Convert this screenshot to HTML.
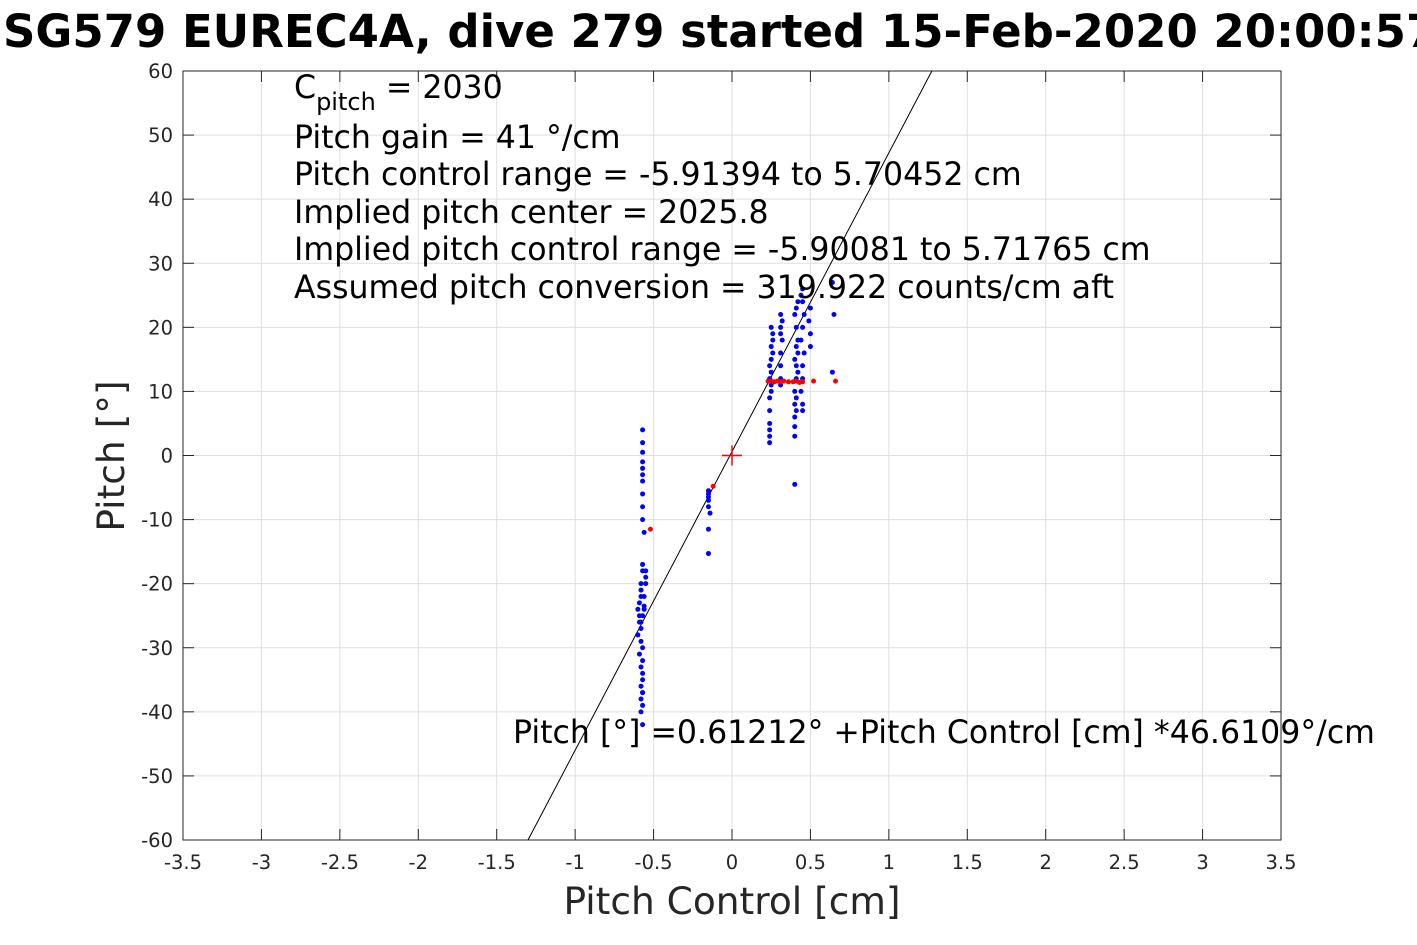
<!DOCTYPE html>
<html><head><meta charset="utf-8"><style>
body{margin:0;background:#fff;}
svg{display:block;font-family:"DejaVu Sans","Liberation Sans",sans-serif;}
</style></head><body>
<svg id="chart" width="1417" height="945" viewBox="0 0 1417 945">
<text x="3" y="47" font-size="45" font-weight="bold" fill="#000">SG579 EUREC4A, dive 279 started 15-Feb-2020 20:00:57</text>
<g id="grid"></g>
<rect x="183" y="71" width="1098" height="769" fill="none" stroke="#262626" stroke-width="1"/>
<g id="ticks"></g>
<g id="marks"></g>
<g font-size="31.6" fill="#000">
<text x="294" y="98">C<tspan font-size="24" dy="12">pitch</tspan><tspan dy="-12"> = 2030</tspan></text>
<text x="294" y="148">Pitch gain = 41 °/cm</text>
<text x="294" y="185">Pitch control range = -5.91394 to 5.70452 cm</text>
<text x="294" y="223">Implied pitch center = 2025.8</text>
<text x="294" y="260">Implied pitch control range = -5.90081 to 5.71765 cm</text>
<text x="294" y="298">Assumed pitch conversion = 319.922 counts/cm aft</text>
<text x="513" y="743">Pitch [°] =0.61212° +Pitch Control [cm] *46.6109°/cm</text>
</g>
<text x="732" y="914" font-size="37.5" fill="#262626" text-anchor="middle">Pitch Control [cm]</text>
<text transform="translate(124,456) rotate(-90)" font-size="37.5" fill="#262626" text-anchor="middle">Pitch [°]</text>
</svg>
<script>
const xTicks=[-3.5,-3,-2.5,-2,-1.5,-1,-0.5,0,0.5,1,1.5,2,2.5,3,3.5];
const yTicks=[60,50,40,30,20,10,0,-10,-20,-30,-40,-50,-60];
const fitIntercept=0.61212;
const fitSlope=46.6109;
const blueX=[-0.57,-0.57,-0.57,-0.57,-0.57,-0.57,-0.57,-0.57,-0.57,-0.57,-0.56,-0.57,-0.55,-0.55,-0.58,-0.58,-0.58,-0.59,-0.56,-0.60,-0.57,-0.59,-0.58,-0.60,-0.58,-0.57,-0.59,-0.57,-0.58,-0.57,-0.57,-0.58,-0.57,-0.58,-0.57,-0.58,-0.57,-0.56,-0.57,-0.58,-0.59,-0.56,-0.55,-0.57,
-0.15,-0.15,-0.15,-0.15,-0.15,-0.14,-0.15,-0.15,
0.24,0.24,0.24,0.24,0.24,0.24,0.25,0.25,0.24,0.25,0.24,0.25,0.26,0.25,0.26,0.26,0.25,
0.31,0.31,0.31,0.31,0.32,0.31,0.31,0.32,0.31,
0.40,0.40,0.40,0.41,0.40,0.41,0.40,0.41,0.42,0.41,0.40,0.42,0.41,0.42,0.41,0.40,0.41,0.42,0.40,
0.45,0.45,0.44,0.45,0.45,0.46,0.44,0.45,0.46,0.45,0.44,0.45,
0.50,0.50,0.49,0.50,0.64,0.65,0.64];
const blueY=[4,2,0.5,-1,-2,-3,-4,-6,-8,-10,-12,-17,-18,-19,-20,-21,-22,-23,-23.5,-24,-25,-26,-27,-28,-29,-30,-31,-32,-33,-34,-35,-36,-37,-38,-39,-40,-42,-24,-18,-26,-25,-22,-20,-37,
-5.5,-6,-6.5,-7,-8,-9,-11.5,-15.3,
2,3,4,5,7,9,10,11,12,13,14,15,16,17,18,19,20,
11,12,14,16,18,19,20,21,22,
3,4.5,6,7,8,9,10,12,13,14,15,16,17,18,20,22,23,24,-4.5,
7,8,10,12,14,16,18,20,22,24,25,26,
17,19,21,23,13,22,27];
const redX=[0.23,0.25,0.27,0.29,0.31,0.33,0.36,0.39,0.41,0.43,0.45,0.52,0.66,-0.52,-0.12];
const redY=[11.6,11.6,11.5,11.6,11.5,11.6,11.5,11.5,11.6,11.4,11.5,11.6,11.6,-11.5,-4.8];
const NS='http://www.w3.org/2000/svg';
const X0=183,X1=1281,Y0=840,Y1=71;
function sx(v){return X0+(v+3.5)/7*(X1-X0);}
function sy(v){return Y0-(v+60)/120*(Y0-Y1);}
function mk(tag,attrs,parent){const e=document.createElementNS(NS,tag);for(const k in attrs)e.setAttribute(k,attrs[k]);parent.appendChild(e);return e;}
const grid=document.getElementById('grid'),ticks=document.getElementById('ticks'),marks=document.getElementById('marks');
xTicks.forEach(t=>{
  const g=mk('line',{x1:sx(t),x2:sx(t),y1:Y1,y2:Y0,stroke:'#dfdfdf','stroke-width':1},grid);
  
  
  const tk=mk('line',{x1:sx(t),x2:sx(t),y1:Y0,y2:Y0-11,stroke:'#262626'},ticks);
  
  
  const tk2=mk('line',{x1:sx(t),x2:sx(t),y1:Y1,y2:Y1+11,stroke:'#262626'},ticks);
  
  
  const l=mk('text',{x:sx(t),y:869,'font-size':19.5,fill:'#262626','text-anchor':'middle'},ticks);
  l.textContent=String(t);
  
  
});
yTicks.forEach(t=>{
  const g=mk('line',{x1:X0,x2:X1,y1:sy(t),y2:sy(t),stroke:'#dfdfdf','stroke-width':1},grid);
  
  
  const tk=mk('line',{x1:X0,x2:X0+11,y1:sy(t),y2:sy(t),stroke:'#262626'},ticks);
  
  
  const tk2=mk('line',{x1:X1,x2:X1-11,y1:sy(t),y2:sy(t),stroke:'#262626'},ticks);
  
  
  const l=mk('text',{x:173,y:sy(t)+7,'font-size':19.5,fill:'#262626','text-anchor':'end'},ticks);
  l.textContent=String(t);
  
  
});
const xa=(-60-fitIntercept)/fitSlope, xb=(60-fitIntercept)/fitSlope;
const fl=mk('line',{x1:sx(xa),y1:sy(-60),x2:sx(xb),y2:sy(60),stroke:'#000','stroke-width':1},marks);


blueX.forEach((x,i)=>{
  const c=mk('circle',{cx:sx(x),cy:sy(blueY[i]),r:2.5,fill:'#0000ff'},marks);
  
  
});
redX.forEach((x,i)=>{
  const c=mk('circle',{cx:sx(x),cy:sy(redY[i]),r:2.5,fill:'#ff0000'},marks);
  
  
});
const cx=sx(0),cy=sy(0);
const p=mk('path',{d:`M${cx-10},${cy}H${cx+10}M${cx},${cy-10}V${cy+10}`,stroke:'#ff0000','stroke-width':1.5,fill:'none'},marks);


</script>
</body></html>
